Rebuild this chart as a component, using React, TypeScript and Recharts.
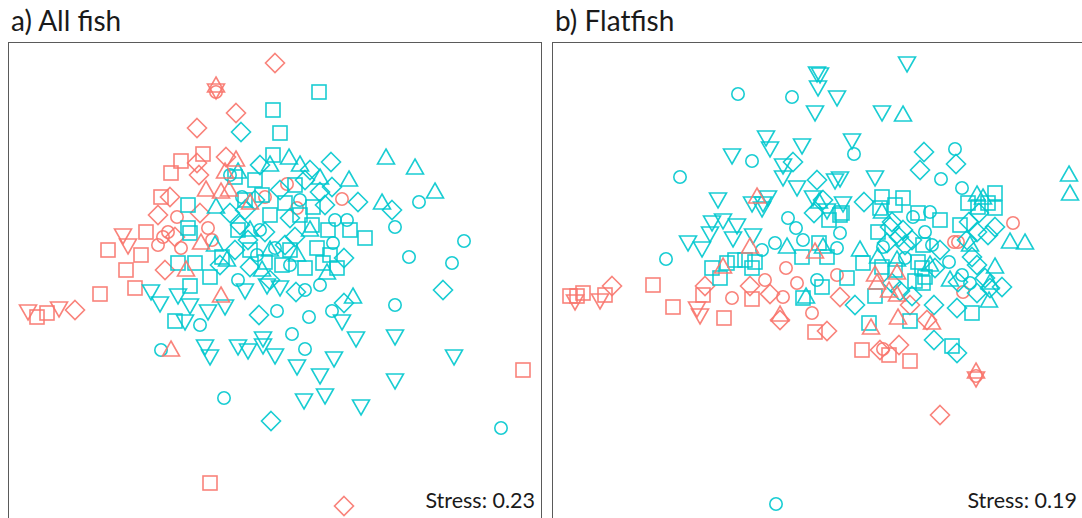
import React from "react";
import { Scatter, ScatterChart, XAxis, YAxis } from "recharts";

type Pt = [number, number];

// ---- a) All fish : NMDS scores (NMDS1, NMDS2) ----
const aRedCircle: Pt[] = [
  [-0.59, 1.88], [-0.1, 0.83], [0.12, 0.96], [0.67, 0.81], [0.22, 0.72], [-0.98, 0.63],
  [-0.67, 0.52], [-1.12, 0.43], [-1.17, 0.35], [-0.94, 0.32], [-0.63, 0.4], [-1.07, 0.48],
];
const aRedSquare: Pt[] = [
  [-0.72, 1.26], [-0.94, 1.19], [-1.04, 1.07], [-1.14, 0.83], [-1.29, 0.48], [-1.67, 0.3],
  [-1.34, 0.25], [-1.49, 0.1], [-1.75, -0.14], [-1.4, -0.08], [-2.38, -0.37], [-2.28, -0.33],
  [-0.65, -2.03], [2.48, -0.9],
];
const aRedDiamond: Pt[] = [
  [0.0, 2.17], [-0.39, 1.67], [-0.78, 1.52], [-0.78, 1.17], [-0.49, 1.23], [-0.76, 1.05],
  [-1.05, 0.83], [-1.17, 0.65], [-0.75, 0.67], [-1.0, 0.43], [-1.1, 0.1], [-2.0, -0.3],
  [0.69, -2.26],
];
const aRedTriUp: Pt[] = [
  [-0.59, 1.94], [-0.39, 1.2], [-0.5, 1.08], [-0.69, 0.9], [-0.54, 0.88], [-0.46, 0.9],
  [-0.25, 0.77], [-0.74, 0.37], [-0.89, 0.1], [-0.54, -0.16], [-1.04, -0.7],
];
const aRedTriDown: Pt[] = [
  [-0.59, 1.9], [-1.52, 0.45], [-1.47, 0.35], [-2.47, -0.31], [-2.16, -0.28],
];
const aCyanCircle: Pt[] = [
  [-0.33, 0.83], [-0.37, 0.0], [-0.75, -0.45], [-1.14, -0.7], [-0.51, -1.18], [1.44, 0.78],
  [1.2, 0.53], [1.89, 0.39], [1.34, 0.23], [1.77, 0.17], [1.2, -0.25], [0.3, -0.1],
  [0.6, 0.6], [0.72, 0.6], [0.58, 0.37], [0.57, -0.31], [0.34, -0.37], [0.17, -0.54],
  [0.3, -0.69], [0.02, -0.31], [2.26, -1.48], [-0.18, 0.25], [0.0, 0.32], [-0.45, 1.05],
  [-0.15, 0.5], [0.15, 0.15], [0.25, 0.8], [0.45, -0.05],
];
const aCyanSquare: Pt[] = [
  [-0.02, 1.7], [0.44, 1.88], [0.05, 1.47], [-0.02, 1.25], [-0.4, 1.03], [-0.87, 0.75],
  [-0.87, 0.52], [-0.85, 0.47], [-0.37, 0.5], [-0.8, 0.17], [-0.97, 0.17], [-0.65, 0.03],
  [-0.53, 0.23], [-0.85, -0.06], [-1.0, -0.41], [0.9, 0.42], [0.37, 0.55], [0.42, 0.32],
  [0.62, 0.12], [0.3, 0.12], [0.48, 0.17], [0.75, 0.5], [0.53, 0.5], [0.38, 0.73],
  [-0.1, 0.18], [0.07, 0.15], [-0.25, 0.3], [-0.13, 0.85], [0.1, 0.77], [0.25, 0.65],
  [-0.05, 0.65], [-0.2, 1.0], [0.2, 0.95], [-0.3, 0.8], [0.55, 0.25], [0.15, 0.3],
];
const aCyanDiamond: Pt[] = [
  [-0.34, 1.48], [-0.15, 1.15], [-0.45, 0.67], [0.56, 1.18], [0.45, 0.88], [0.83, 0.78],
  [1.17, 0.7], [0.2, 0.43], [0.69, 0.22], [1.68, -0.1], [0.21, -0.12], [-0.16, -0.35],
  [-0.04, -1.41], [0.69, -0.23], [-0.25, 0.13], [-0.4, 0.3], [-0.1, 0.48], [0.57, 0.93],
  [-0.3, 0.7], [0.05, 0.9], [0.3, 1.0], [0.15, 0.62], [-0.55, 0.15], [-0.27, 0.4],
  [-0.2, 0.8], [0.35, 1.1], [0.1, 0.35], [0.5, 0.75], [-0.05, 0.0], [-0.35, 0.55],
];
const aCyanTriUp: Pt[] = [
  [0.14, 1.22], [1.11, 1.22], [1.4, 1.12], [0.74, 1.0], [1.6, 0.88], [0.45, 1.02],
  [1.07, 0.77], [-0.37, 1.08], [-0.59, 0.73], [0.22, 0.25], [0.52, 0.07], [0.78, -0.17],
  [-0.48, 0.2], [-0.13, 0.1], [-0.05, 1.15], [0.25, 1.15], [-0.6, 0.35], [0.35, 0.5],
  [-0.25, 0.5], [-0.05, 0.3],
];
const aCyanTriDown: Pt[] = [
  [-1.24, -0.11], [-1.15, -0.23], [-0.97, -0.15], [-0.85, -0.25], [-0.9, -0.41], [-0.67, -0.31],
  [-0.5, -0.26], [-0.7, -0.66], [-0.65, -0.76], [-0.37, -0.66], [-0.27, -0.7], [-0.12, -0.58],
  [-0.12, -0.65], [0.0, -0.75], [0.67, -0.41], [0.81, -0.58], [1.2, -0.56], [1.79, -0.76],
  [0.59, -0.78], [0.45, -0.95], [0.22, -0.86], [1.2, -1.0], [0.5, -1.15], [0.29, -1.2],
  [0.86, -1.26], [-0.08, -0.05], [0.05, -0.07], [-0.3, -0.1],
];

// ---- b) Flatfish ----
const bRedCircle: Pt[] = [
  [-0.31, 0.12], [0.2, 0.05], [-0.2, -0.03], [-0.52, 0.0], [-0.85, -0.18], [-0.34, -0.17],
  [-0.05, -0.33], [1.37, 0.38], [1.41, 0.38], [1.96, 0.57], [1.46, -0.12], [0.66, -0.69],
  [1.59, -0.96],
];
const bRedSquare: Pt[] = [
  [-2.47, -0.16], [-2.4, -0.16], [-2.34, -0.13], [-2.12, -0.15], [-1.64, -0.05], [-1.44, -0.27],
  [-1.14, -0.15], [-0.93, -0.38], [-0.65, -0.19], [-0.02, -0.52], [0.45, -0.7], [0.72, -0.75],
  [0.93, -0.81],
];
const bRedDiamond: Pt[] = [
  [-2.05, -0.06], [-1.12, -0.06], [-0.67, -0.06], [-0.47, -0.14], [-0.37, -0.4], [0.23, -0.17],
  [0.1, -0.51], [0.93, -0.25], [1.1, -0.4], [0.63, -0.7], [0.82, -0.65], [1.23, -1.35],
];
const bRedTriUp: Pt[] = [
  [-0.6, 0.83], [-0.67, 0.33], [-0.94, 0.13], [-0.02, 0.28], [-0.37, -0.35], [0.6, -0.03],
  [0.72, -0.11], [0.8, -0.15], [0.54, -0.48], [0.81, -0.38], [1.15, -0.43], [0.58, 0.05],
  [0.8, 0.07], [1.59, -0.92],
];
const bRedTriDown: Pt[] = [
  [-2.42, -0.21], [-2.17, -0.2], [-1.2, -0.28], [-1.17, -0.35], [1.59, -0.98],
];
const bCyanCircle: Pt[] = [
  [-0.79, 1.86], [-0.25, 1.83], [-0.65, 1.19], [-1.37, 1.03], [-0.29, 0.62], [-0.21, 0.52],
  [-0.55, 0.3], [-0.42, 0.37], [-0.14, 0.4], [-1.51, 0.21], [0.0, 0.0], [0.37, 1.26],
  [1.38, 1.31], [1.24, 1.01], [1.45, 0.92], [1.13, 0.68], [1.08, 0.48], [1.15, 0.35],
  [1.32, 0.18], [0.23, 0.47], [0.2, 0.32], [0.96, 0.63], [0.66, 0.33], [0.88, 0.22],
  [1.45, 0.05], [1.53, -0.03], [-0.41, -2.24],
];
const bCyanSquare: Pt[] = [
  [-1.05, 0.12], [-0.9, 0.17], [-0.82, 0.2], [-0.72, 0.2], [-0.62, 0.18], [-0.65, 0.12],
  [-0.15, 0.23], [0.1, 0.23], [-0.97, 0.02], [0.23, 0.65], [0.3, 0.02], [0.05, -0.07],
  [-0.14, -0.18], [0.58, -0.16], [0.98, -0.01], [1.55, -0.33], [0.52, -0.43], [0.93, -0.41],
  [1.35, -0.66], [1.78, 0.87], [1.78, 0.72], [1.51, 0.77], [1.61, 0.73], [1.71, 0.77],
  [0.65, 0.83], [0.63, 0.72], [0.86, 0.82], [0.78, 0.75], [1.01, 0.67], [1.23, 0.6],
  [0.25, 0.67], [0.12, 0.6], [0.02, 0.37], [0.61, 0.48], [1.06, 0.35], [0.46, 0.17],
  [1.01, 0.18], [1.05, 0.12], [1.08, 0.03], [0.65, 0.13], [1.06, -0.03], [1.43, 0.55],
  [0.78, 0.1],
];
const bCyanDiamond: Pt[] = [
  [-0.24, 1.18], [0.0, 1.0], [0.06, 0.8], [1.07, 1.28], [1.03, 1.1], [1.39, 1.16],
  [0.47, 0.78], [-0.03, 0.67], [0.95, 0.4], [0.75, 0.58], [0.82, 0.43], [0.73, 0.53],
  [0.86, 0.5], [1.52, 0.58], [1.62, 0.67], [1.78, 0.53], [1.6, 0.48], [1.71, 0.45],
  [1.5, 0.4], [0.7, 0.37], [1.18, 0.12], [1.55, 0.23], [1.6, 0.15], [1.41, -0.02],
  [1.68, 0.02], [1.85, -0.07], [1.6, -0.13], [0.38, -0.25], [0.75, -0.03], [0.83, -0.11],
  [0.95, -0.16], [1.17, -0.25], [1.4, -0.28], [1.73, -0.08], [1.17, -0.6], [1.4, -0.73],
  [0.88, 0.35], [1.23, 0.3],
];
const bCyanTriUp: Pt[] = [
  [0.86, 1.65], [2.52, 1.05], [2.53, 0.86], [1.6, 0.85], [1.66, 0.82], [0.65, 0.68],
  [1.93, 0.38], [2.08, 0.37], [1.78, 0.13], [0.43, 0.3], [0.8, 0.2], [0.61, 0.23],
  [-0.3, 0.33], [0.06, 0.33], [0.02, 0.78], [-0.11, -0.17], [1.33, 0.0], [1.72, -0.21],
  [1.73, -0.03], [1.13, 0.15], [1.53, 0.35],
];
const bCyanTriDown: Pt[] = [
  [0.9, 2.17], [0.0, 2.07], [0.03, 2.06], [0.01, 1.93], [0.2, 1.83], [-0.02, 1.68],
  [0.65, 1.68], [-0.51, 1.43], [-0.47, 1.32], [-0.15, 1.35], [-0.85, 1.25], [0.35, 1.4],
  [-0.34, 1.15], [-0.34, 1.03], [-0.2, 0.93], [-0.99, 0.81], [-0.65, 0.77], [-0.54, 0.77],
  [-0.49, 0.83], [-0.04, 0.83], [0.18, 1.0], [0.23, 1.02], [0.1, 0.7], [0.26, 0.77],
  [0.58, 1.03], [-1.05, 0.58], [-0.94, 0.6], [-0.8, 0.55], [-0.84, 0.42], [-1.07, 0.47],
  [-1.15, 0.32], [-1.29, 0.38], [-0.64, 0.45], [-0.55, 0.72],
];

const RED = "#F8766D";
const CYAN = "#00C8CE";
const FONT = "Lato, 'Open Sans', sans-serif";

type Kind = "circle" | "square" | "diamond" | "up" | "down";

const mark = (kind: Kind, color: string) => (props: any) => {
  const { cx, cy } = props;
  const common = { fill: "none", stroke: color, strokeWidth: 1.6, strokeOpacity: 0.9 };
  if (kind === "circle") return <circle cx={cx} cy={cy} r={6.2} {...common} />;
  if (kind === "square") return <rect x={cx - 7} y={cy - 7} width={14} height={14} {...common} />;
  if (kind === "diamond")
    return <path d={`M${cx},${cy - 9.5}L${cx + 9.5},${cy}L${cx},${cy + 9.5}L${cx - 9.5},${cy}Z`} {...common} />;
  if (kind === "up")
    return <path d={`M${cx},${cy - 9}L${cx + 8.5},${cy + 6}L${cx - 8.5},${cy + 6}Z`} {...common} />;
  return <path d={`M${cx},${cy + 9}L${cx + 8.5},${cy - 6}L${cx - 8.5},${cy - 6}Z`} {...common} />;
};

const toRows = (pts: Pt[]) => pts.map(([x, y]) => ({ x, y }));

type Group = { pts: Pt[]; kind: Kind; color: string };

function Panel({
  left, width, title, stress, stressRight, xDomain, groups,
}: {
  left: number; width: number; title: string; stress: string; stressRight: number;
  xDomain: [number, number]; groups: Group[];
}) {
  const top = 43;
  const height = 490;
  return (
    <>
      <div style={{ position: "absolute", left: left + 2, top: 3, fontFamily: FONT, fontSize: 28, color: "#1a1a1a" }}>
        {title}
      </div>
      <div
        style={{
          position: "absolute", left: left - 1, top: top - 1, width: width, height: height,
          border: "1.5px solid #5a5a5a",
        }}
      />
      <div style={{ position: "absolute", left, top }}>
        <ScatterChart width={width} height={height} margin={{ top: 0, right: 0, bottom: 0, left: 0 }}>
          <XAxis type="number" dataKey="x" domain={xDomain} hide allowDataOverflow />
          <YAxis type="number" dataKey="y" domain={[-2.53, 2.37]} hide allowDataOverflow />
          {groups.map((g, i) => (
            <Scatter key={i} data={toRows(g.pts)} shape={mark(g.kind, g.color)} isAnimationActive={false} />
          ))}
        </ScatterChart>
      </div>
      <div
        style={{
          position: "absolute", left: stressRight - 150, width: 150, top: 487, textAlign: "right",
          fontFamily: FONT, fontSize: 21.5, color: "#1a1a1a", whiteSpace: "nowrap",
        }}
      >
        {stress}
      </div>
    </>
  );
}

export default function App() {
  const aGroups: Group[] = [
    { pts: aRedCircle, kind: "circle", color: RED },
    { pts: aRedSquare, kind: "square", color: RED },
    { pts: aRedDiamond, kind: "diamond", color: RED },
    { pts: aCyanCircle, kind: "circle", color: CYAN },
    { pts: aCyanSquare, kind: "square", color: CYAN },
    { pts: aCyanDiamond, kind: "diamond", color: CYAN },
    { pts: aCyanTriUp, kind: "up", color: CYAN },
    { pts: aCyanTriDown, kind: "down", color: CYAN },
    { pts: aRedTriUp, kind: "up", color: RED },
    { pts: aRedTriDown, kind: "down", color: RED },
  ];
  const bGroups: Group[] = [
    { pts: bRedCircle, kind: "circle", color: RED },
    { pts: bRedSquare, kind: "square", color: RED },
    { pts: bRedDiamond, kind: "diamond", color: RED },
    { pts: bCyanCircle, kind: "circle", color: CYAN },
    { pts: bCyanSquare, kind: "square", color: CYAN },
    { pts: bCyanDiamond, kind: "diamond", color: CYAN },
    { pts: bCyanTriUp, kind: "up", color: CYAN },
    { pts: bCyanTriDown, kind: "down", color: CYAN },
    { pts: bRedTriUp, kind: "up", color: RED },
    { pts: bRedTriDown, kind: "down", color: RED },
  ];
  return (
    <div style={{ position: "absolute", left: 0, top: 0, width: 1082, height: 518, overflow: "hidden", background: "#fff" }}>
      <Panel left={9} width={532} title="a) All fish" stress="Stress: 0.23" stressRight={535}
        xDomain={[-2.66, 2.66]} groups={aGroups} />
      <Panel left={553} width={540} title="b) Flatfish" stress="Stress: 0.19" stressRight={1077}
        xDomain={[-2.64, 2.76]} groups={bGroups} />
    </div>
  );
}
